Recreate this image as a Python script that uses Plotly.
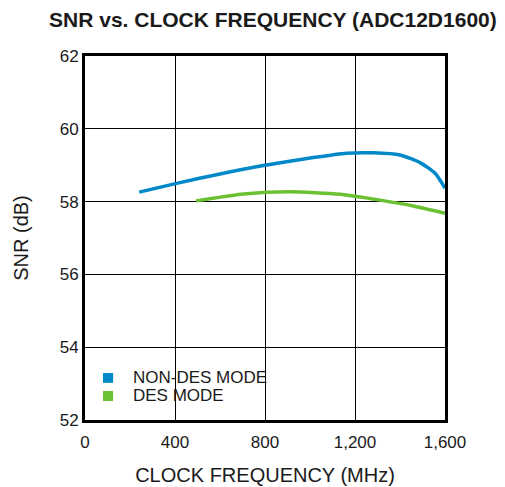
import plotly.graph_objects as go

non_des_x = [241, 407, 600, 793, 1015, 1163, 1281, 1400, 1489, 1556, 1600]
non_des_y = [58.26, 58.50, 58.76, 58.99, 59.21, 59.33, 59.34, 59.28, 59.07, 58.78, 58.37]
des_x = [493, 704, 911, 1133, 1311, 1459, 1600]
des_y = [58.02, 58.21, 58.27, 58.20, 58.04, 57.88, 57.68]

series_names = ["NON-DES MODE", "DES MODE"]

x_ticks = [0, 400, 800, 1200, 1600]
x_tick_labels = ["0", "400", "800", "1,200", "1,600"]
y_ticks = [52, 54, 56, 58, 60, 62]

blue = "#0088C8"
green = "#6CC133"
colors = [blue, green]

fig = go.Figure()
fig.add_trace(go.Scatter(x=non_des_x, y=non_des_y, mode="lines", name=series_names[0],
                         line=dict(color=blue, width=3.5, shape="spline", smoothing=0.6),
                         showlegend=False))
fig.add_trace(go.Scatter(x=des_x, y=des_y, mode="lines", name=series_names[1],
                         line=dict(color=green, width=3.5, shape="spline", smoothing=0.6),
                         showlegend=False))

# custom legend (squares + labels) in plot-area coordinates
leg_rows = [(0.129, 0.102, 0.117), (0.0797, 0.0522, 0.067)]
for (y1, y0, yc), name, col in zip(leg_rows, series_names, colors):
    fig.add_shape(type="rect", xref="x domain", yref="y domain",
                  x0=0.05, x1=0.078, y0=y0, y1=y1,
                  fillcolor=col, line=dict(width=0))
    fig.add_annotation(xref="x domain", yref="y domain", x=0.128, y=yc,
                       text=name, showarrow=False, xanchor="left", yanchor="middle",
                       font=dict(size=17))

fig.update_layout(
    width=497, height=479,
    margin=dict(l=77, r=60, t=48, b=67),
    paper_bgcolor="white", plot_bgcolor="white",
    font=dict(family="Liberation Sans, Arial, sans-serif", size=17, color="#1a1a1a"),
    title=dict(text="<b>SNR vs. CLOCK FREQUENCY (ADC12D1600)</b>", x=0.533, xanchor="center",
               y=0.975, yanchor="middle", font=dict(size=21)),
    showlegend=False,
    xaxis=dict(range=[0, 1600], tickvals=x_ticks, ticktext=x_tick_labels,
               showgrid=True, gridcolor="black", gridwidth=1,
               showline=True, linecolor="black", linewidth=3, mirror=True,
               ticks="", zeroline=False, automargin=False, ticklabelstandoff=5,
               title=dict(text="CLOCK FREQUENCY (MHz)", standoff=17)),
    yaxis=dict(range=[52, 62], tickvals=y_ticks,
               showgrid=True, gridcolor="black", gridwidth=1,
               showline=True, linecolor="black", linewidth=3, mirror=True,
               ticks="", zeroline=False, automargin=False,
               title=dict(text="SNR (dB)", standoff=26)),
)

fig.write_html("out.html")
